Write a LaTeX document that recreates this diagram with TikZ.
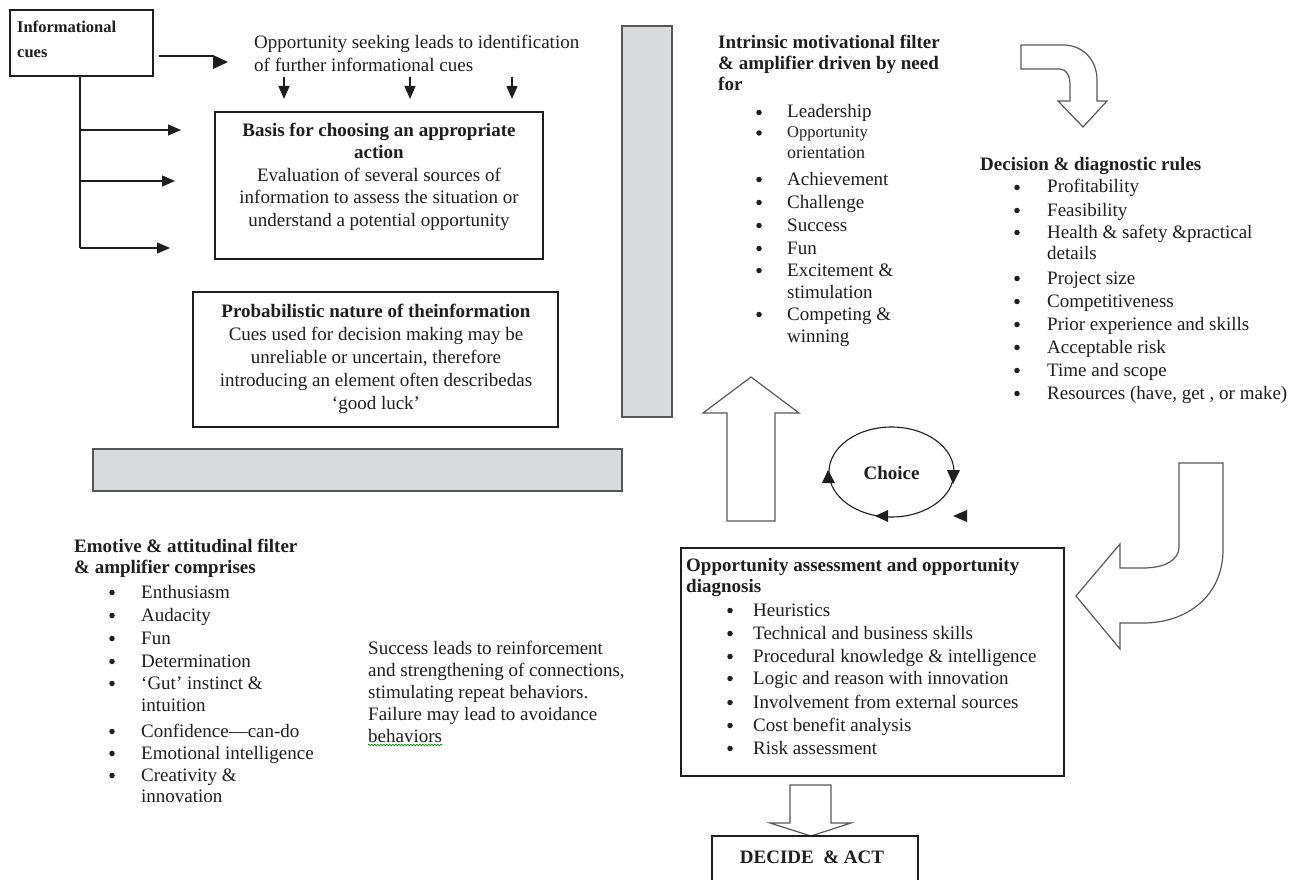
\documentclass[tikz,border=0pt]{standalone}
\usepackage{fontspec}
\setmainfont{Liberation Serif}
\usetikzlibrary{arrows.meta,decorations.pathmorphing}
\definecolor{ink}{HTML}{1E1E1E}
\definecolor{barfill}{HTML}{D9DADC}
\definecolor{barline}{HTML}{555555}
\newcommand\bitem[5]{\node[bul] (#1b) at (#2,#4-5.5) {};\node[txt] (#1) at (#3,#4) {#5};}
\begin{document}
\begin{tikzpicture}[x=1pt,y=-1pt,
 txt/.style={inner sep=0pt,anchor=base west,text=ink,font=\fontsize{19}{23}\selectfont},
 ctxt/.style={txt,anchor=base},
 btxt/.style={txt,font=\fontsize{19}{23}\selectfont\bfseries},
 bctxt/.style={btxt,anchor=base},
 bul/.style={circle,inner sep=0pt,minimum size=5.5pt,fill=ink},
 box/.style={draw=ink,line width=1.3pt,inner sep=0pt},
 bar/.style={draw=barline,fill=barfill,line width=1.4pt,inner sep=0pt},
 conn/.style={draw=ink,line width=1.2pt,-{Triangle[length=13pt,width=11pt]}},
 tip/.style={fill=ink},
 fat/.style={draw=black!65,line width=1.2pt,fill=white,line join=miter},
]
\useasboundingbox (0,0) rectangle (1301,880);
\fill[white] (0,0) rectangle (1301,880);

% ---------- Informational cues ----------
\node[box,minimum width=143pt,minimum height=66pt] (cues) at (81.5,43) {};
\node[btxt,font=\fontsize{16.5}{20}\selectfont\bfseries] (cues1) at (17,33) {Informational};
\node[btxt,font=\fontsize{16.5}{20}\selectfont\bfseries] (cues2) at (17,58) {cues};

\node[txt] (opp1) at (254,49) {Opportunity seeking leads to identification};
\node[txt] (opp2) at (254,72) {of further informational cues};

\coordinate (a0s) at (159,56);
\coordinate (a0e) at (213,56);
\draw[draw=ink,line width=1.2pt] (a0s) -- (a0e);
\fill[tip] (213,55) -- (228,62) -- (213,69) -- cycle;

% down arrows
\coordinate (d1s) at (284,77); \coordinate (d1e) at (284,99);
\coordinate (d2s) at (410,77); \coordinate (d2e) at (410,99);
\coordinate (d3s) at (512,77); \coordinate (d3e) at (512,99);
\draw[conn] (d1s) -- (d1e);
\draw[conn] (d2s) -- (d2e);
\draw[conn] (d3s) -- (d3e);

% ---------- Basis box ----------
\node[box,minimum width=328pt,minimum height=147pt] (basis) at (379,185.5) {};
\node[bctxt] (bas1) at (379,136) {Basis for choosing an appropriate};
\node[bctxt] (bas2) at (379,158) {action};
\node[ctxt] (bas3) at (379,181) {Evaluation of several sources of};
\node[ctxt] (bas4) at (379,203) {information to assess the situation or};
\node[ctxt] (bas5) at (379,226) {understand a potential opportunity};

% left trunk with arrows
\coordinate (t0) at (80,76);
\coordinate (t1) at (80,130); \coordinate (e1) at (181,130);
\coordinate (t2) at (80,181); \coordinate (e2) at (175,181);
\coordinate (t3) at (80,248); \coordinate (e3) at (170,248);
\draw[draw=ink,line width=1.2pt] (t0) -- (t3);
\draw[conn] (t1) -- (e1);
\draw[conn] (t2) -- (e2);
\draw[conn] (t3) -- (e3);

% ---------- Probabilistic box ----------
\node[box,minimum width=365pt,minimum height=135pt] (prob) at (375.5,359.5) {};
\node[bctxt] (pr1) at (376,317) {Probabilistic nature of theinformation};
\node[ctxt] (pr2) at (376,340) {Cues used for decision making may be};
\node[ctxt] (pr3) at (376,363) {unreliable or uncertain, therefore};
\node[ctxt] (pr4) at (376,386) {introducing an element often describedas};
\node[ctxt] (pr5) at (376,409) {‘good luck’};

% ---------- Gray bars ----------
\node[bar,minimum width=50pt,minimum height=391pt] (vbar) at (647,221.5) {};
\node[bar,minimum width=529pt,minimum height=42pt] (hbar) at (357.5,470) {};

% ---------- Intrinsic ----------
\node[btxt] (in1) at (718,49) {Intrinsic motivational filter};
\node[btxt] (in2) at (718,70) {\& amplifier driven by need};
\node[btxt] (in3) at (718,91) {for};
\bitem{i1}{759}{787}{118}{Leadership}
\node[bul] (i2b) at (759,133) {};
\node[txt,font=\fontsize{16.5}{20}\selectfont] (i2) at (787,138) {Opportunity};
\node[txt,font=\fontsize{18}{20}\selectfont] (i2x) at (787,159) {orientation};
\bitem{i3}{759}{787}{185}{Achievement}
\bitem{i4}{759}{787}{208}{Challenge}
\bitem{i5}{759}{787}{231}{Success}
\bitem{i6}{759}{787}{254}{Fun}
\bitem{i7}{759}{787}{276}{Excitement \&}
\node[txt] (i7x) at (787,298) {stimulation};
\bitem{i8}{759}{787}{320}{Competing \&}
\node[txt] (i8x) at (787,342) {winning};

% ---------- Curved arrow top right ----------
\draw[fat] (1021,45) -- (1063,45) .. controls (1083,45) and (1097,60) .. (1097,80)
  -- (1097,101) -- (1107,101) -- (1083,127) -- (1058,101) -- (1070,101) -- (1070,85)
  .. controls (1070,75) and (1066,69) .. (1060,69) -- (1021,69) -- cycle;

% ---------- Decision rules ----------
\node[btxt] (dr0) at (980,171) {Decision \& diagnostic rules};
\bitem{r1}{1017}{1047}{193}{Profitability}
\bitem{r2}{1017}{1047}{216}{Feasibility}
\bitem{r3}{1017}{1047}{238}{Health \& safety \&practical}
\node[txt] (r3x) at (1047,259) {details};
\bitem{r4}{1017}{1047}{284}{Project size}
\bitem{r5}{1017}{1047}{307}{Competitiveness}
\bitem{r6}{1017}{1047}{330}{Prior experience and skills}
\bitem{r7}{1017}{1047}{353}{Acceptable risk}
\bitem{r8}{1017}{1047}{376}{Time and scope}
\bitem{r9}{1017}{1047}{399}{Resources (have, get , or make)}

% ---------- Big up arrow ----------
\draw[fat] (727,521) -- (727,413) -- (703,413) -- (751,377) -- (799,413) -- (775,413) -- (775,521) -- cycle;

% ---------- Choice ----------
\draw[draw=ink,line width=1.1pt] (891.5,472) ellipse [x radius=62.5pt, y radius=45pt];
\node[bctxt] (choice) at (891.5,479) {Choice};
\fill[tip] (828,470) -- (822,483) -- (835,483) -- cycle;
\fill[tip] (947,470) -- (960,470) -- (953,484) -- cycle;
\fill[tip] (875,516) -- (888,510) -- (888,522) -- cycle;
\fill[tip] (953,516) -- (967,510) -- (967,522) -- cycle;

% ---------- Curved arrow bottom right ----------
\draw[fat] (1179,463) -- (1223,463) -- (1223,550) .. controls (1223,595) and (1188,623) .. (1143,623)
  -- (1120,623) -- (1120,649) -- (1076,596) -- (1120,544) -- (1120,568) -- (1143,568)
  .. controls (1165,568) and (1179,560) .. (1179,547) -- cycle;

% ---------- Opportunity assessment box ----------
\node[box,minimum width=383pt,minimum height=228pt] (oa) at (872.5,662) {};
\node[btxt] (oa1) at (686,571) {Opportunity assessment and opportunity};
\node[btxt] (oa2) at (686,592) {diagnosis};
\bitem{o1}{730}{753}{616}{Heuristics}
\bitem{o2}{730}{753}{639}{Technical and business skills}
\bitem{o3}{730}{753}{662}{Procedural knowledge \& intelligence}
\bitem{o4}{730}{753}{684}{Logic and reason with innovation}
\bitem{o5}{730}{753}{708}{Involvement from external sources}
\bitem{o6}{730}{753}{731}{Cost benefit analysis}
\bitem{o7}{730}{753}{754}{Risk assessment}

% ---------- Down arrow & Decide ----------
\draw[fat] (790,785) -- (831,785) -- (831,823) -- (851,823) -- (811,836) -- (770,823) -- (790,823) -- cycle;
\node[box,minimum width=206pt,minimum height=60pt] (decide) at (815,866) {};
\node[bctxt] (dec) at (812,863) {DECIDE\ \ \& ACT};

% ---------- Emotive ----------
\node[btxt] (em1) at (74,552) {Emotive \& attitudinal filter};
\node[btxt] (em2) at (74,573) {\& amplifier comprises};
\bitem{m1}{112}{141}{598}{Enthusiasm}
\bitem{m2}{112}{141}{621}{Audacity}
\bitem{m3}{112}{141}{644}{Fun}
\bitem{m4}{112}{141}{667}{Determination}
\bitem{m5}{112}{141}{689}{‘Gut’ instinct \&}
\node[txt] (m5x) at (141,711) {intuition};
\bitem{m6}{112}{141}{737}{Confidence—can-do}
\bitem{m7}{112}{141}{759}{Emotional intelligence}
\bitem{m8}{112}{141}{781}{Creativity \&}
\node[txt] (m8x) at (141,802) {innovation};

% ---------- Success text ----------
\node[txt] (s1) at (368,654) {Success leads to reinforcement};
\node[txt] (s2) at (368,676) {and strengthening of connections,};
\node[txt] (s3) at (368,698) {stimulating repeat behaviors.};
\node[txt] (s4) at (368,720) {Failure may lead to avoidance};
\node[txt] (s5) at (368,742) {behaviors};
\draw[green!55!black,line width=0.7pt,decorate,decoration={snake,amplitude=0.8pt,segment length=3pt}]
  ([yshift=-3pt]s5.base west) -- ([yshift=-3pt]s5.base east);
\end{tikzpicture}
\end{document}
